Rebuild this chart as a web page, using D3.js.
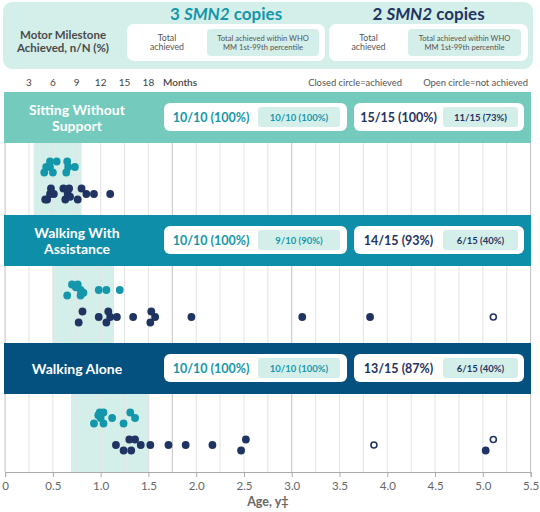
<!DOCTYPE html>
<html>
<head>
<meta charset="utf-8">
<script src="https://cdn.jsdelivr.net/npm/d3@7"></script>
<style>
  body { margin: 0; background: #fff; }
  svg { font-family: Lato, "Open Sans", sans-serif; }
</style>
</head>
<body>
<div id="chart"></div>
<script>
/* motor milestones by SMN2 copy number, dot strip per milestone */

// axis ticks
const ageTicks = [0, 0.5, 1.0, 1.5, 2.0, 2.5, 3.0, 3.5, 4.0, 4.5, 5.0, 5.5];
const monthTicks = [3, 6, 9, 12, 15, 18];
const strongGrid = [1.75, 3.0];

// milestones and summary numbers
const milestones = [["Sitting Without", "Support"], ["Walking With", "Assistance"], ["Walking Alone"]];
const whoWindow = [[0.30, 0.80], [0.50, 1.14], [0.69, 1.51]];
const total3 = ["10/10 (100%)", "10/10 (100%)", "10/10 (100%)"];
const within3 = ["10/10 (100%)", "9/10 (90%)", "10/10 (100%)"];
const total2 = ["15/15 (100%)", "14/15 (93%)", "13/15 (87%)"];
const within2 = ["11/15 (73%)", "6/15 (40%)", "6/15 (40%)"];

// [age in years, stacking lane]
const sitting3 = [[0.41, 1], [0.43, 0], [0.47, -1], [0.47, 0], [0.50, 1], [0.54, -1], [0.64, 1], [0.65, -1], [0.66, 0], [0.73, 0]];
const sitting2 = [[0.42, 1], [0.44, 1], [0.47, 0], [0.48, -1], [0.51, 0], [0.61, -1], [0.63, 1], [0.655, 0], [0.67, -1], [0.68, 0.5], [0.76, 1], [0.80, -1], [0.85, 0], [0.93, 0], [1.10, 0]];
const assist3 = [[0.65, 1], [0.70, -1], [0.74, -0.5], [0.76, -1], [0.79, 0], [0.79, 1], [0.82, 0.5], [0.98, 0], [1.06, 0], [1.20, 0]];
const assist2 = [[0.77, 1], [0.81, -1], [0.98, 0], [1.06, 1], [1.08, -1], [1.10, 0], [1.17, 0], [1.34, 0], [1.52, 1], [1.53, -1], [1.57, 0], [1.95, 0], [3.11, 0], [3.82, 0]];
const assist2Open = [[5.11, 0]];
const alone3 = [[0.93, 1], [0.975, -0.5], [0.99, -1], [1.0, 0], [1.03, -1], [1.03, 1], [1.12, 0], [1.24, 1], [1.31, -1], [1.36, 0]];
const alone2 = [[1.16, 0], [1.24, 1], [1.30, -1], [1.32, 1], [1.36, -1], [1.42, 0], [1.52, 0], [1.71, 0], [1.89, 0], [2.17, 0], [2.47, 1], [2.52, -1], [5.03, 1]];
const alone2Open = [[3.86, 0], [5.11, -1]];

const dots3 = [sitting3, assist3, alone3];
const dots2 = [sitting2, assist2, alone2];
const open2 = [[], assist2Open, alone2Open];

const teal = "#1497aa";
const navy = "#1f3462";
const headerColors = ["#74cbbd", "#0e8ea8", "#04507f"];
const paleTeal = "#d4efea";

const W = 540, H = 512;
const svg = d3.select("#chart").append("svg").attr("width", W).attr("height", H);

const x = d3.scaleLinear().domain([0, 5.5]).range([5.1, 530.6]);

// panel geometry
const headTop = [92, 215, 343];
const headH = 51;
const plotBottom = [215, 343, 472];
const laneStep = 5.5;

// ---- top header ----
svg.append("rect").attr("x", 3).attr("y", 2).attr("width", 530).attr("height", 67)
  .attr("rx", 9).attr("fill", paleTeal);

svg.append("text").attr("x", 63).attr("y", 38.5).attr("text-anchor", "middle")
  .attr("font-size", 11.5).attr("font-weight", 700).attr("fill", "#4a4a4a")
  .text("Motor Milestone");
svg.append("text").attr("x", 63).attr("y", 52).attr("text-anchor", "middle")
  .attr("font-size", 11.5).attr("font-weight", 700).attr("fill", "#4a4a4a")
  .text("Achieved, n/N (%)");

const groups = [
  { n: "3", color: teal, box: [127, 325], inner: [207, 319] },
  { n: "2", color: navy, box: [329, 528], inner: [408, 521] }
];
groups.forEach(g => {
  const t = svg.append("text").attr("x", (g.box[0] + g.box[1]) / 2).attr("y", 20)
    .attr("text-anchor", "middle").attr("font-size", 17).attr("font-weight", 700)
    .attr("fill", g.color);
  t.append("tspan").text(g.n + " ");
  t.append("tspan").attr("font-style", "italic").text("SMN2");
  t.append("tspan").text(" copies");

  svg.append("rect").attr("x", g.box[0]).attr("y", 24).attr("width", g.box[1] - g.box[0])
    .attr("height", 37).attr("rx", 7).attr("fill", "#fff");
  svg.append("rect").attr("x", g.inner[0]).attr("y", 29).attr("width", g.inner[1] - g.inner[0])
    .attr("height", 27).attr("rx", 4).attr("fill", paleTeal);

  const cx = (g.box[0] + g.inner[0]) / 2;
  svg.append("text").attr("x", cx).attr("y", 40.5).attr("text-anchor", "middle")
    .attr("font-size", 8.8).attr("fill", "#555").text("Total");
  svg.append("text").attr("x", cx).attr("y", 50).attr("text-anchor", "middle")
    .attr("font-size", 8.8).attr("fill", "#555").text("achieved");
  const ix = (g.inner[0] + g.inner[1]) / 2;
  svg.append("text").attr("x", ix).attr("y", 40.5).attr("text-anchor", "middle")
    .attr("font-size", 7.6).attr("fill", "#555").text("Total achieved within WHO");
  svg.append("text").attr("x", ix).attr("y", 50).attr("text-anchor", "middle")
    .attr("font-size", 7.6).attr("fill", "#555").text("MM 1st-99th percentile");
});

// months row
svg.append("g").selectAll("text").data(monthTicks).enter().append("text")
  .attr("x", d => x(d / 12)).attr("y", 85.5).attr("text-anchor", "middle")
  .attr("font-size", 10).attr("fill", "#444").text(d => d);
svg.append("text").attr("x", 163).attr("y", 85.5).attr("font-size", 10).attr("font-weight", 600)
  .attr("fill", "#444").text("Months");
svg.append("text").attr("x", 402).attr("y", 85.5).attr("text-anchor", "end")
  .attr("font-size", 9.4).attr("fill", "#555").text("Closed circle=achieved");
svg.append("text").attr("x", 528).attr("y", 85.5).attr("text-anchor", "end")
  .attr("font-size", 9.4).attr("fill", "#555").text("Open circle=not achieved");

// ---- panels ----
const gridVals = d3.range(0, 5.51, 0.25);

milestones.forEach((label, i) => {
  const top = headTop[i] + headH;
  const bottom = plotBottom[i];
  const g = svg.append("g");

  // WHO window band
  g.append("rect").attr("x", x(whoWindow[i][0])).attr("y", top)
    .attr("width", x(whoWindow[i][1]) - x(whoWindow[i][0])).attr("height", bottom - top)
    .attr("fill", paleTeal);

  // grid lines
  g.selectAll(".grid").data(gridVals).enter().append("line")
    .attr("x1", d => x(d)).attr("x2", d => x(d)).attr("y1", top).attr("y2", bottom)
    .attr("stroke", d => (strongGrid.includes(d) || d === 0 || d === 5.5) ? "#c2c2c2" : "#e3e3e3")
    .attr("stroke-width", 1);

  // header bar
  g.append("rect").attr("x", 4).attr("y", headTop[i]).attr("width", 527).attr("height", headH)
    .attr("fill", headerColors[i]);
  const ly = label.length === 2 ? headTop[i] + 23 : headTop[i] + 31;
  label.forEach((line, k) => {
    g.append("text").attr("x", 77).attr("y", ly + k * 16).attr("text-anchor", "middle")
      .attr("font-size", 14).attr("font-weight", 700).attr("fill", "#fff").text(line);
  });

  const boxes = [
    { box: [164, 347], inner: [258, 340], total: total3[i], within: within3[i], color: teal },
    { box: [354, 524], inner: [443, 518], total: total2[i], within: within2[i], color: navy }
  ];
  boxes.forEach(b => {
    const by = headTop[i] + 11;
    g.append("rect").attr("x", b.box[0]).attr("y", by).attr("width", b.box[1] - b.box[0])
      .attr("height", 28).attr("rx", 6).attr("fill", "#fff");
    g.append("rect").attr("x", b.inner[0]).attr("y", by + 4).attr("width", b.inner[1] - b.inner[0])
      .attr("height", 20).attr("rx", 3).attr("fill", paleTeal);
    g.append("text").attr("x", (b.box[0] + b.inner[0]) / 2).attr("y", by + 19)
      .attr("text-anchor", "middle").attr("font-size", 12.5).attr("font-weight", 700)
      .attr("fill", b.color).text(b.total);
    g.append("text").attr("x", (b.inner[0] + b.inner[1]) / 2).attr("y", by + 17.5)
      .attr("text-anchor", "middle").attr("font-size", 9.5).attr("font-weight", 700)
      .attr("fill", b.color).text(b.within);
  });

  // dot rows
  const row = d3.scalePoint().domain(["3", "2"]).range([top + 24, top + 51]);

  g.selectAll(".d3c").data(dots3[i]).enter().append("circle")
    .attr("cx", d => x(d[0])).attr("cy", d => row("3") + d[1] * laneStep)
    .attr("r", 3.9).attr("fill", teal);
  g.selectAll(".d2c").data(dots2[i]).enter().append("circle")
    .attr("cx", d => x(d[0])).attr("cy", d => row("2") + d[1] * laneStep)
    .attr("r", 3.9).attr("fill", navy);
  g.selectAll(".o2c").data(open2[i]).enter().append("circle")
    .attr("cx", d => x(d[0])).attr("cy", d => row("2") + d[1] * laneStep)
    .attr("r", 3).attr("fill", "#fff").attr("stroke", navy).attr("stroke-width", 1.6);
});

// ---- bottom axis ----
const axis = svg.append("g").attr("transform", "translate(0,472)")
  .call(d3.axisBottom(x).tickValues(ageTicks).tickSize(5)
    .tickFormat(d => d === 0 ? "0" : d3.format(".1f")(d)));
axis.select(".domain").attr("stroke", "#aaa");
axis.selectAll(".tick line").attr("stroke", "#aaa");
axis.selectAll(".tick text").attr("fill", "#666").attr("font-size", 11.5)
  .attr("font-family", "Lato, sans-serif").attr("dy", "0.85em");

svg.append("text").attr("x", x(2.75)).attr("y", 506).attr("text-anchor", "middle")
  .attr("font-size", 12.5).attr("font-weight", 700).attr("fill", "#666").text("Age, y\u2021");
</script>
</body>
</html>
